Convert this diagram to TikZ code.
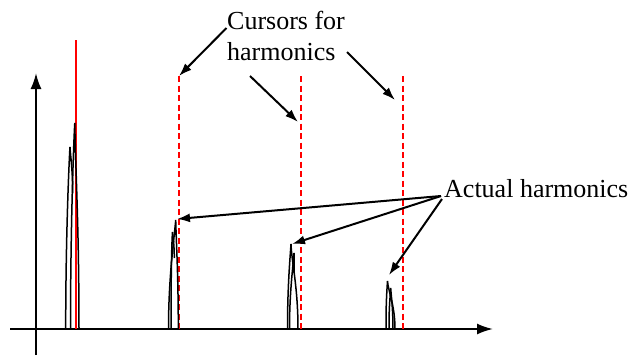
\documentclass[tikz,border=0pt]{standalone}
\usepackage{fontspec}
\setmainfont{LiberationSerif}[Extension=.ttf, UprightFont=*-Regular, BoldFont=*-Bold]
\usepackage{tikz}
\usetikzlibrary{arrows.meta}
\definecolor{cCursor}{HTML}{FF0000}
\tikzset{
  axis/.style  = {-{Latex[length=16pt,width=11pt]}, line width=2pt},
  pk/.style    = {line width=1.5pt, black},
  fund/.style  = {line width=1.8pt, draw=cCursor},
  cur/.style   = {line width=1.8pt, draw=cCursor, dash pattern=on 6pt off 3.5pt},
  lbl/.style   = {inner sep=0pt, align=left, font=\fontsize{26}{31}\selectfont},
  ptr/.style   = {-{Latex[length=13pt,width=9pt]}, line width=2pt},
}
\begin{document}
\begin{tikzpicture}[x=1pt,y=-1pt]
  \useasboundingbox (0,0) rectangle (632,362);

  % axes
  \coordinate (o1) at (36,355);
  \coordinate (yt) at (36,73);
  \coordinate (o2) at (10,329);
  \coordinate (xt) at (493,329);
  \draw[axis] (o1) -- (yt);
  \draw[axis] (o2) -- (xt);

  % fundamental marker and cursors
  \coordinate (f0) at (76,40);
  \coordinate (f1) at (76,329);
  \draw[fund] (f0) -- (f1);
  \foreach \x/\n in {179/1, 301/2, 403/3} {
    \coordinate (k\n) at (\x,76);
    \coordinate (b\n) at (\x,329);
    \draw[cur] (k\n) -- (b\n);
  }

  % spectral lines
  \foreach \l/\px/\py/\ex/\ey in {65.7/70/147/72.7/193, 70.5/74.8/123/79/329,
      168.5/175.7/220/178.3/329, 171/172.5/232/174.3/258,
      287.5/291/244/298/329, 289.5/294/253/294/273,
      386/387.5/281/395/329, 389/390.7/288/393/329}
    \draw[pk] (\l,329) .. controls (\l,{(329+\py)/2}) and ({\px-1},{\py+15}) .. (\px,\py)
      .. controls ({\px+0.5},{\py+0.2*(\ey-\py)}) and (\ex,{\ey-0.5*(\ey-\py)}) .. (\ex,\ey);

  % labels
  \node[lbl, anchor=north west] (cursors) at (227,11) {Cursors for\\harmonics};
  \node[lbl, anchor=base west] (actual) at (444,197) {Actual harmonics};

  \coordinate (s1) at (226.5,28);
  \coordinate (s2) at (250,76);
  \coordinate (s3) at (347,52);
  \coordinate (t2) at (298,122);
  \coordinate (t3) at (395,100);
  \draw[ptr] (s1) -- (k1);
  \draw[ptr] (s2) -- (t2);
  \draw[ptr] (s3) -- (t3);

  \coordinate (a0) at (441,196);
  \coordinate (a1) at (442,199);
  \coordinate (h1) at (177,219);
  \coordinate (h2) at (292,244);
  \coordinate (h3) at (389,275);
  \draw[ptr] (a0) -- (h1);
  \draw[ptr] (a0) -- (h2);
  \draw[ptr] (a1) -- (h3);
\end{tikzpicture}
\end{document}
